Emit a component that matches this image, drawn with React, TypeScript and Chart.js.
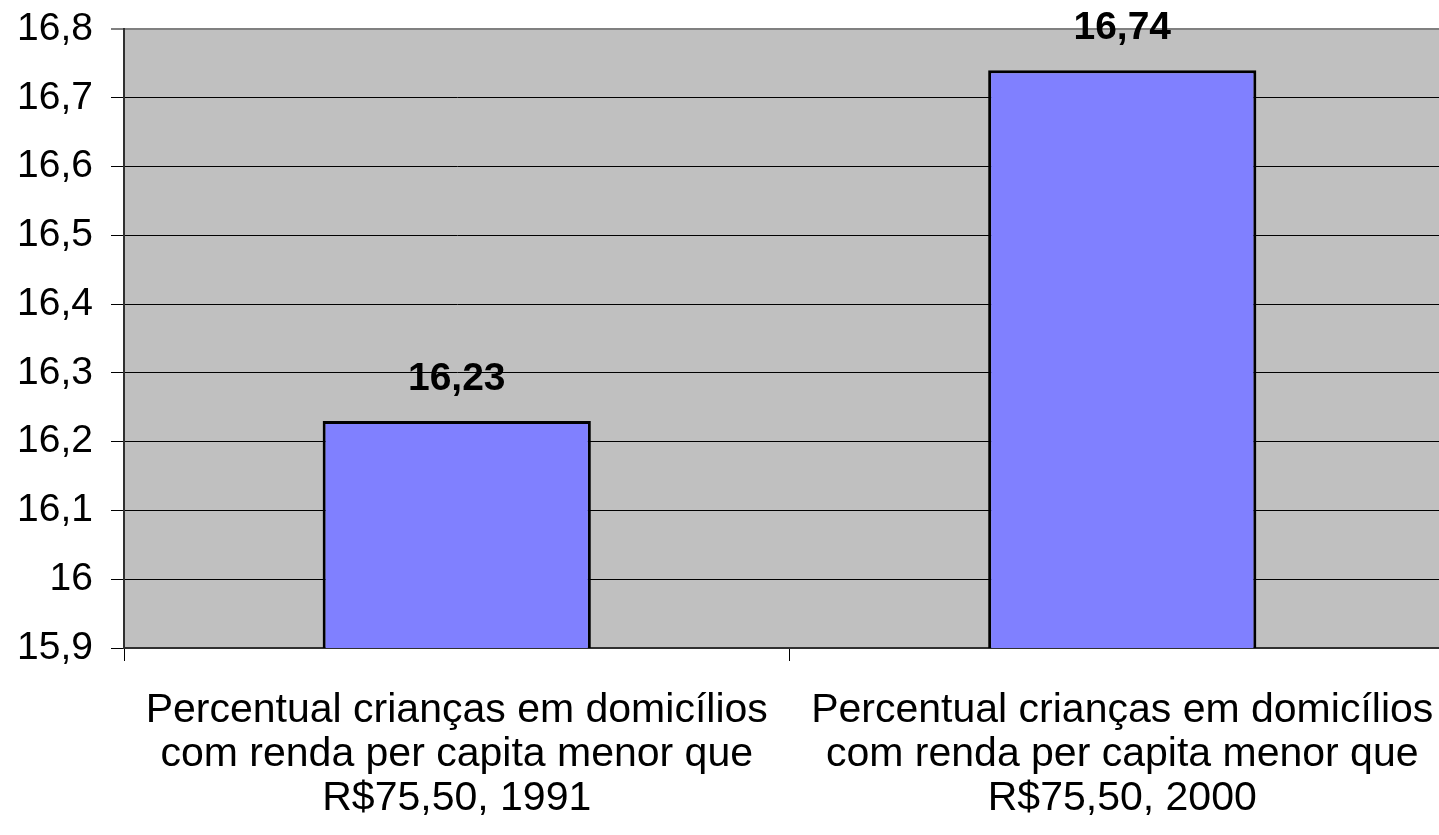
import React, { useEffect, useRef } from "react";
import { Chart, registerables } from "chart.js";

Chart.register(...registerables);

const categories: string[][] = [
  ["Percentual crianças em domicílios", "com renda per capita menor que", "R$75,50, 1991"],
  ["Percentual crianças em domicílios", "com renda per capita menor que", "R$75,50, 2000"],
];
const values: number[] = [16.23, 16.74];
const valueLabels: string[] = ["16,23", "16,74"];
const yMin = 15.9;
const yMax = 16.8;
const yStep = 0.1;

const FONT = "'Liberation Sans', Arial, Helvetica, sans-serif";

const bgPlugin = {
  id: "plotBg",
  beforeDraw(chart: any) {
    const { ctx, chartArea } = chart;
    ctx.save();
    ctx.fillStyle = "#C0C0C0";
    ctx.fillRect(chartArea.left, chartArea.top, chartArea.right - chartArea.left, chartArea.bottom - chartArea.top);
    ctx.restore();
  },
};

const valuePlugin = {
  id: "valueLabels",
  afterDatasetsDraw(chart: any) {
    const { ctx } = chart;
    const meta = chart.getDatasetMeta(0);
    ctx.save();
    ctx.font = `bold 39px ${FONT}`;
    ctx.fillStyle = "#000";
    ctx.textAlign = "center";
    ctx.textBaseline = "alphabetic";
    meta.data.forEach((bar: any, i: number) => {
      ctx.fillText(valueLabels[i], bar.x, bar.y - 31);
    });
    ctx.restore();
  },
};

export default function App() {
  const ref = useRef<HTMLCanvasElement | null>(null);
  useEffect(() => {
    if (!ref.current) return;
    const chart = new Chart(ref.current, {
      type: "bar",
      data: {
        labels: categories,
        datasets: [
          {
            data: values,
            backgroundColor: "#8080FF",
            borderColor: "#000000",
            borderWidth: 3,
            categoryPercentage: 1,
            barPercentage: 0.403,
          },
        ],
      },
      options: {
        responsive: false,
        animation: false,
        devicePixelRatio: 1,
        layout: { padding: { top: 29, left: 0, right: 0, bottom: 0 } },
        plugins: { legend: { display: false }, tooltip: { enabled: false } },
        scales: {
          x: {
            offset: true,
            grid: {
              offset: true,
              drawOnChartArea: false,
              drawTicks: true,
              tickLength: 13,
              tickColor: "#000",
              tickWidth: 1,
            },
            border: { color: "#303030", width: 2 },
            ticks: {
              color: "#000",
              font: { family: FONT, size: 41, lineHeight: 44 / 41 },
              padding: 28,
              maxRotation: 0,
              autoSkip: false,
            },
            afterFit(scale: any) {
              scale.height = 187;
              scale.paddingLeft = 0;
              scale.paddingRight = 0;
            },
          },
          y: {
            min: yMin,
            max: yMax,
            grid: {
              color: (c: any) => (Math.abs(c.tick.value - yMax) < 1e-6 ? "#808080" : "#000"),
              lineWidth: (c: any) => (Math.abs(c.tick.value - yMax) < 1e-6 ? 2 : 1),
              tickLength: 13,
              tickColor: "#000",
              tickWidth: 1,
            },
            border: { color: "#303030", width: 2 },
            ticks: {
              stepSize: yStep,
              color: "#000",
              font: { family: FONT, size: 39 },
              padding: 18,
              callback: (v: any) => Number(Number(v).toFixed(1)).toString().replace(".", ","),
            },
            afterFit(scale: any) {
              scale.width = 124;
              scale.paddingTop = 0;
              scale.paddingBottom = 0;
            },
          },
        },
      },
      plugins: [bgPlugin, valuePlugin],
    });
    return () => chart.destroy();
  }, []);
  return (
    <div style={{ position: "fixed", left: 0, top: 0, width: 1439, height: 835, overflow: "hidden", background: "#fff" }}>
      <canvas ref={ref} width={1455} height={835} style={{ display: "block" }} />
    </div>
  );
}
